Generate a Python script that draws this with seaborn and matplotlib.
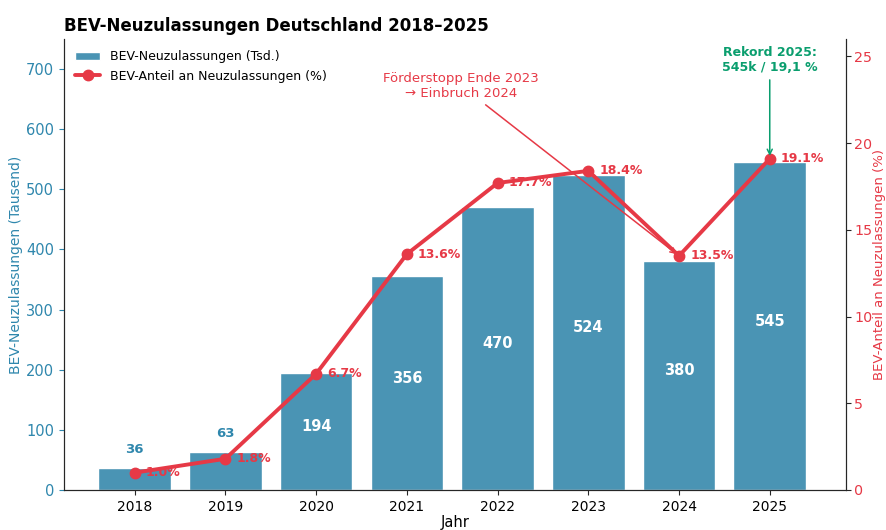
import pandas as pd
import matplotlib.pyplot as plt
import seaborn as sns

# ==========================================
# Data
# ==========================================
years = ["2018", "2019", "2020", "2021", "2022", "2023", "2024", "2025"]
registrations = [36, 63, 194, 356, 470, 524, 380, 545]  # thousand
share = [1.0, 1.8, 6.7, 13.6, 17.7, 18.4, 13.5, 19.1]  # percent

BAR_COLOR = "#4a94b4"
LINE_COLOR = "#e63946"
GREEN = "#0a9e6e"

df = pd.DataFrame({"Jahr": years, "Tsd": registrations, "Anteil": share})

sns.set_style("ticks")
plt.rcParams["font.family"] = ["DejaVu Sans"]

fig = plt.figure(figsize=(8.86, 5.3), dpi=100)
ax = fig.add_axes([0.0722, 0.0755, 0.8826, 0.8509])

sns.barplot(data=df, x="Jahr", y="Tsd", color=BAR_COLOR, width=0.8,
            ax=ax, label="BEV-Neuzulassungen (Tsd.)", saturation=1)
ax.set_ylim(0, 750)
ax.set_xlim(-0.78, 7.84)
ax.set_ylabel("BEV-Neuzulassungen (Tausend)", color="#2f87ad", fontsize=10,
              labelpad=2)
ax.set_xlabel("Jahr", fontsize=10.5, color="black", labelpad=1)
ax.tick_params(axis="y", colors="#2f87ad", labelsize=10.5)
ax.tick_params(axis="x", labelsize=10, labelcolor="black")
ax.spines["top"].set_visible(False)

# bar value labels
for i, v in enumerate(registrations):
    if v < 100:
        ax.text(i, v + 20, str(v), ha="center", va="bottom", color="#2f87ad",
                fontsize=9.5, fontweight="bold")
    else:
        ax.text(i, v / 2 + 8, str(v), ha="center", va="center", color="white",
                fontsize=10.5, fontweight="bold")

# share line on secondary axis
ax2 = ax.twinx()
ax2.plot(range(len(years)), share, color=LINE_COLOR, lw=2.8, marker="o",
         markersize=7.5, label="BEV-Anteil an Neuzulassungen (%)")
ax2.set_ylim(0, 26)
ax2.set_yticks([0, 5, 10, 15, 20, 25])
ax2.set_ylabel("BEV-Anteil an Neuzulassungen (%)", color=LINE_COLOR,
               fontsize=9.5, labelpad=0)
ax2.tick_params(axis="y", labelcolor=LINE_COLOR, labelsize=10.3, pad=2.5)
ax2.spines["top"].set_visible(False)

for i, v in enumerate(share):
    ax2.annotate(f"{v:.1f}%", (i, v), xytext=(8, 0), textcoords="offset points",
                 ha="left", va="center", color=LINE_COLOR, fontsize=9,
                 fontweight="bold")

# annotations
ax2.annotate("Förderstopp Ende 2023\n→ Einbruch 2024", xy=(6, 13.5),
             xytext=(3.6, 23.3), ha="center", va="center", color=LINE_COLOR,
             fontsize=9.5,
             arrowprops=dict(arrowstyle="->", color=LINE_COLOR, lw=1.1))
ax2.annotate("Rekord 2025:\n545k / 19,1 %", xy=(7, 19.1), xytext=(7, 24.8),
             ha="center", va="center", color=GREEN, fontsize=9,
             fontweight="bold",
             arrowprops=dict(arrowstyle="->", color=GREEN, lw=1.1))

# legend
h1, l1 = ax.get_legend_handles_labels()
h2, l2 = ax2.get_legend_handles_labels()
ax.legend(h1 + h2, l1 + l2, loc="upper left", frameon=False, fontsize=9,
          labelcolor="black")

ax.set_title("BEV-Neuzulassungen Deutschland 2018–2025", loc="left",
             fontsize=12, fontweight="bold", color="black")

fig.savefig("out.png", dpi=100)
